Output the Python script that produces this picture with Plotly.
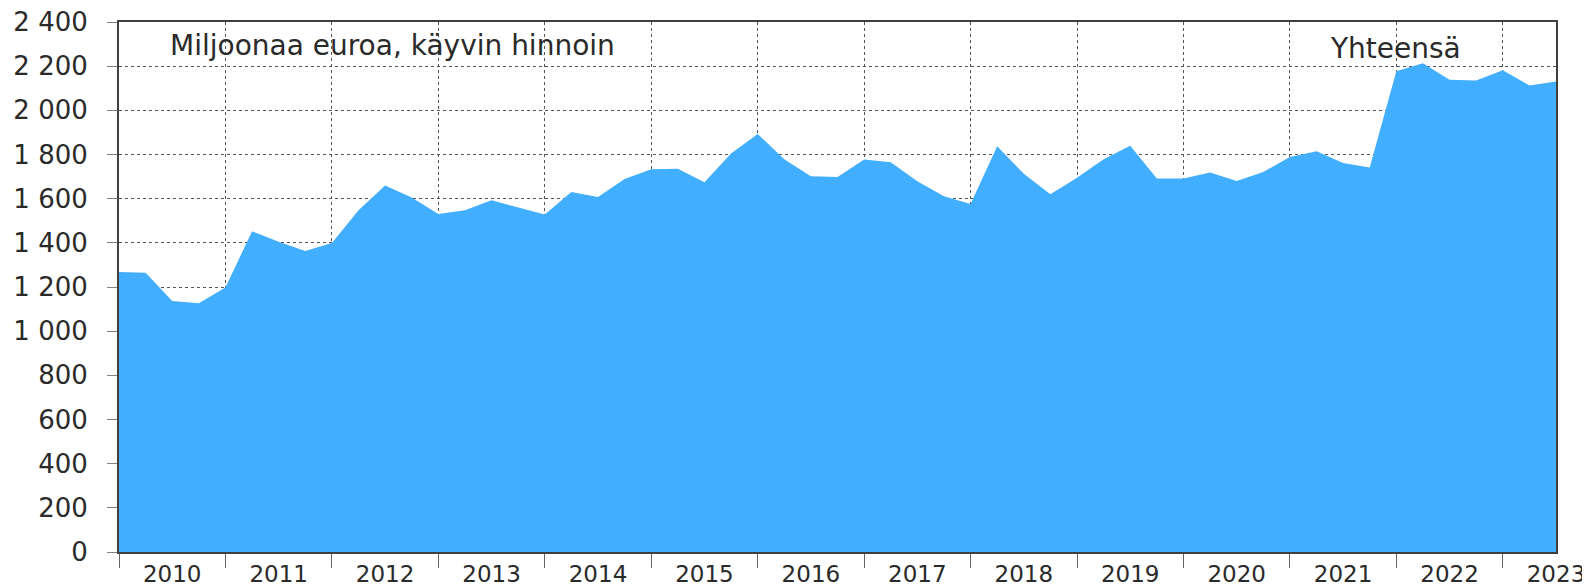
import plotly.graph_objects as go

# Quarterly data 2010Q1 ... 2023Q3 (million euro, current prices)
quarter_labels = [f"{y}Q{q}" for y in range(2010, 2024) for q in range(1, 5)][:55]
values = [
    1268, 1265, 1137, 1126,
    1198, 1452, 1405, 1363,
    1399, 1547, 1660, 1605,
    1531, 1547, 1593, 1562,
    1528, 1630, 1608, 1689,
    1733, 1736, 1674, 1804,
    1893, 1778, 1701, 1698,
    1777, 1765, 1679, 1611,
    1576, 1837, 1713, 1620,
    1695, 1778, 1840, 1691,
    1691, 1718, 1680, 1721,
    1789, 1815, 1762, 1741,
    2177, 2213, 2139, 2135,
    2181, 2113, 2131,
]
years = [str(y) for y in range(2010, 2024)]
y_ticks = list(range(0, 2401, 200))
y_ticktext = [f"{v:,}".replace(",", " ") for v in y_ticks]

x_index = list(range(len(values)))
year_label_pos = [2 + 4 * k for k in range(len(years))]
year_boundaries = [4 * k for k in range(len(years))]

FONT = "DejaVu Sans"
TXT = "#2a2a2a"
GRID = "#555555"

fig = go.Figure()
fig.add_trace(go.Scatter(
    x=x_index, y=values, mode="lines", fill="tozeroy",
    line=dict(width=0, color="#42AEFF"), fillcolor="#42AEFF",
    text=quarter_labels, hoverinfo="text+y", showlegend=False,
))

fig.update_layout(
    width=1590, height=586, autosize=False,
    margin=dict(l=111, r=42, t=14, b=42, pad=0),
    paper_bgcolor="white", plot_bgcolor="white",
    font=dict(family=FONT, color=TXT),
    xaxis=dict(
        range=[0, len(values) - 1], automargin=False,
        tickmode="array", tickvals=year_label_pos, ticktext=years,
        ticks="", showgrid=False, zeroline=False,
        showline=True, mirror=True, linecolor="#404040", linewidth=2,
        tickfont=dict(size=23, family=FONT, color=TXT),
        ticklabelstandoff=0, ticklabeloverflow="allow",
        minor=dict(tickmode="array", tickvals=year_boundaries, ticks="outside",
                   ticklen=14, tickwidth=1, tickcolor="#666666",
                   showgrid=True, gridcolor=GRID, griddash="dot", gridwidth=1),
    ),
    yaxis=dict(
        range=[0, 2400], automargin=False,
        tickmode="array", tickvals=y_ticks, ticktext=y_ticktext,
        ticks="outside", ticklen=10, tickwidth=1, tickcolor="#808080",
        showgrid=True, gridcolor=GRID, griddash="dot", gridwidth=1,
        zeroline=False,
        showline=True, mirror=True, linecolor="#404040", linewidth=2,
        tickfont=dict(size=26, family=FONT, color=TXT),
        ticklabelstandoff=14, ticklabeloverflow="allow",
    ),
    annotations=[
        dict(text="Miljoonaa euroa, käyvin hinnoin", xref="paper", yref="paper",
             x=0.034, y=0.955, xanchor="left", yanchor="middle", showarrow=False,
             font=dict(size=28, family=FONT, color=TXT)),
        dict(text="Yhteensä", xref="paper", yref="paper",
             x=0.841, y=0.950, xanchor="left", yanchor="middle", showarrow=False,
             font=dict(size=28, family=FONT, color=TXT)),
    ],
)

fig.write_html("out.html")
